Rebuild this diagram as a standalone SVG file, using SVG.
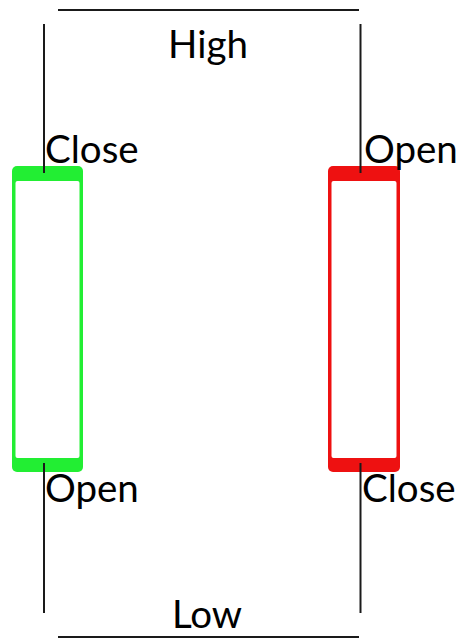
<svg xmlns="http://www.w3.org/2000/svg" width="462" height="640" viewBox="0 0 462 640">
<style>
.ln{stroke:#1a1a1a;stroke-width:2;fill:none}
.lb{font-family:Lato,"Liberation Sans",sans-serif;font-size:38.5px;fill:#000}
.g{fill:#22ee33}
.r{fill:#ee1111}
.in{fill:#fff}
</style>
<rect width="462" height="640" fill="#fff"/>
<g id="bull">
<rect class="g" x="12" y="166" width="71" height="306" rx="5"/>
<rect class="in" x="15.5" y="181" width="64" height="277" rx="2"/>
</g>
<g id="bear">
<rect class="r" x="328" y="166" width="72" height="306" rx="5"/>
<rect class="in" x="331.5" y="181" width="65" height="277" rx="2"/>
</g>
<g id="connectors">
<line class="ln" x1="58" y1="10" x2="359" y2="10"/>
<line class="ln" x1="58" y1="637" x2="359" y2="637"/>
<line class="ln" x1="44" y1="24" x2="44" y2="173"/>
<line class="ln" x1="44" y1="463" x2="44" y2="613"/>
<line class="ln" x1="360.5" y1="24" x2="360.5" y2="173"/>
<line class="ln" x1="360.5" y1="463" x2="360.5" y2="613"/>
</g>
<g id="labels">
<text class="lb" x="208" y="58" text-anchor="middle">High</text>
<text class="lb" x="45" y="163">Close</text>
<text class="lb" x="364" y="163">Open</text>
<text class="lb" x="45" y="502">Open</text>
<text class="lb" x="362" y="502">Close</text>
<text class="lb" x="207" y="628" text-anchor="middle">Low</text>
</g>
</svg>
